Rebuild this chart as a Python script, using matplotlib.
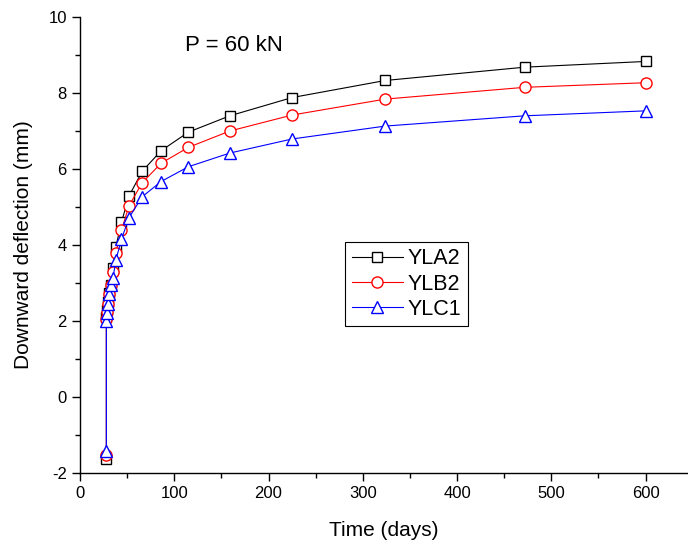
import matplotlib.pyplot as plt
from matplotlib.ticker import MultipleLocator

plt.rcParams['font.family'] = ['Liberation Sans', 'DejaVu Sans']
plt.rcParams['axes.unicode_minus'] = False

days = [28, 28, 29, 30, 31, 33, 35, 38, 44, 52, 66, 86, 115, 159, 225, 324, 472, 600]
yla2 = [-1.63, 2.1, 2.3, 2.5, 2.75, 2.95, 3.4, 3.95, 4.6, 5.29, 5.94, 6.48, 6.97, 7.4, 7.88, 8.33, 8.68, 8.83]
ylb2 = [-1.53, 2.05, 2.25, 2.45, 2.7, 2.95, 3.3, 3.8, 4.39, 5.03, 5.64, 6.15, 6.57, 7.0, 7.42, 7.84, 8.15, 8.27]
ylc1 = [-1.42, 2.0, 2.22, 2.45, 2.72, 2.95, 3.13, 3.6, 4.15, 4.72, 5.27, 5.67, 6.06, 6.42, 6.79, 7.13, 7.4, 7.53]

fig = plt.figure(figsize=(6.88, 5.5), dpi=100)
ax = fig.add_axes([80 / 688, 77 / 550, 608 / 688, 456 / 550])

ms = 7
ax.plot(days, yla2, color='black', lw=0.8, marker='s', ms=ms, mfc='white', mew=1.0, label='YLA2')
ax.plot(days, ylb2, color='red', lw=0.8, marker='o', ms=ms + 1, mfc='white', mew=1.0, label='YLB2')
ax.plot(days, ylc1, color='blue', lw=0.8, marker='^', ms=ms + 1, mfc='white', mew=1.0, label='YLC1')

ax.set_xlim(0, 645)
ax.set_ylim(-2, 10)
ax.xaxis.set_major_locator(MultipleLocator(100))
ax.xaxis.set_minor_locator(MultipleLocator(50))
ax.yaxis.set_major_locator(MultipleLocator(2))
ax.yaxis.set_minor_locator(MultipleLocator(1))
ax.tick_params(which='major', direction='out', length=6, width=1, labelsize=12)
ax.tick_params(which='minor', direction='out', length=3.5, width=1)
ax.spines['top'].set_visible(False)
ax.spines['right'].set_visible(False)
for s in ['left', 'bottom']:
    ax.spines[s].set_linewidth(1)

ax.set_xlabel('Time (days)', fontsize=15, labelpad=14)
ax.set_ylabel('Downward deflection (mm)', fontsize=15, labelpad=11)
ax.text(111, 9.26, 'P = 60 kN', fontsize=16, va='center')

leg = ax.legend(loc='upper left', bbox_to_anchor=(0.436, 0.507), borderaxespad=0,
                fontsize=15.5, handlelength=2.4, fancybox=False, edgecolor='black',
                framealpha=1, labelspacing=0.2, handletextpad=0.2, borderpad=0.3)
leg.get_frame().set_linewidth(0.8)

fig.savefig('out.png', dpi=100)
